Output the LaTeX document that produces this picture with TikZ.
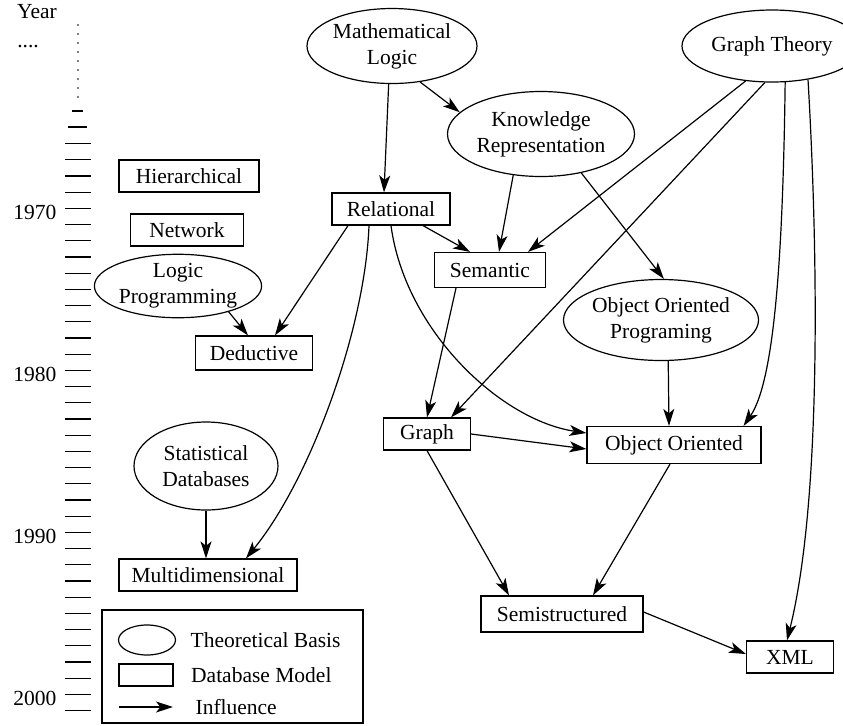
\documentclass[tikz,border=0pt]{standalone}
\usepackage{fontspec}
\setmainfont{Liberation Serif}
\usetikzlibrary{shapes.geometric,arrows.meta,positioning}

\tikzset{
  theory/.style={ellipse, draw, inner sep=0pt, align=center},
  model/.style={rectangle, draw, inner sep=0pt, align=center},
  influence/.style={-{Stealth[length=8.5pt,width=5.5pt,inset=2.2pt]}},
  yeartick/.style={line width=0.6pt},
  legtext/.style={inner sep=0pt}
}

\begin{document}
\begin{tikzpicture}[x=0.5pt, y=-0.5pt, line width=0.6pt,
    font=\fontsize{10.75}{13}\selectfont]
  \useasboundingbox (0,0) rectangle (843,725);

  % Time axis
  \node[inner sep=0pt] (year) at (37,12) {Year};
  \node[inner sep=0pt, anchor=base] (dots) at (28,47) {....};
  \draw[line width=0.9pt, line cap=round, dash pattern=on 0pt off 4.5pt] (78,25) -- (78,98);
  \draw[yeartick] (72,111) -- (83,111);
  \draw[yeartick] (68,127) -- (87,127);
  \foreach \yr in {1966,...,2001}
    \draw[yeartick] (65,{208.3+(\yr-1970)*16.2}) -- (91,{208.3+(\yr-1970)*16.2});
  \foreach \yr in {1970,1980,1990,2000}
    \node[anchor=east, inner sep=0pt] (y\yr) at (57,{212.3+(\yr-1970)*16.2}) {\yr};

  % Define nodes
  \node[theory, minimum width=85pt, minimum height=37.5pt]   (ml)  at (392,46)  {Mathematical\\Logic};
  \node[theory, minimum width=90pt, minimum height=36pt]     (gt)  at (772,46)  {Graph Theory};
  \node[theory, minimum width=93.5pt, minimum height=42.5pt] (kr)  at (541,134) {Knowledge\\Representation};
  \node[theory, minimum width=75pt, minimum height=31pt]     (lp)  at (178,286) {Logic\\Programming};
  \node[theory, minimum width=87pt, minimum height=40.5pt]   (oop) at (661,320) {Object Oriented\\Programing};
  \node[theory, minimum width=72pt, minimum height=44pt]     (sd)  at (206,466) {Statistical\\Databases};

  \node[model, minimum width=70pt, minimum height=16pt]    (hier)  at (189,176) {Hierarchical};
  \node[model, minimum width=56.5pt, minimum height=16pt]  (net)   at (187,230) {Network};
  \node[model, minimum width=59pt, minimum height=16pt]    (rel)   at (391,209) {Relational};
  \node[model, minimum width=55.5pt, minimum height=17.5pt] (sem)  at (490,270) {Semantic};
  \node[model, minimum width=58.5pt, minimum height=17pt]  (ded)   at (254,353) {Deductive};
  \node[model, minimum width=43.5pt, minimum height=16pt]  (graph) at (427,434) {Graph};
  \node[model, minimum width=87pt, minimum height=18.5pt]  (oo)    at (674,445) {Object Oriented};
  \node[model, minimum width=89pt, minimum height=16pt]    (multi) at (208,575) {Multidimensional};
  \node[model, minimum width=81pt, minimum height=18pt]    (semi)  at (562,614) {Semistructured};
  \node[model, minimum width=43.5pt, minimum height=16pt]  (xml)   at (790,657) {XML};

  % Connect the nodes
  \draw[influence] (ml.265) -- ([xshift=-3.5pt]rel.north);
  \draw[influence] (ml.308) -- (kr.165);
  \draw[influence] (kr.236) -- ([xshift=4.5pt]sem.north);
  \draw[influence] (kr.316) -- (oop.86);
  \draw[influence] (gt.233) -- ([xshift=19pt]sem.north);
  \draw[influence] (gt.259) -- ([xshift=12pt]graph.north);
  \draw[influence] (gt.290) .. controls (783,250) and (775,380) .. ([xshift=-9pt]oo.north east);
  \draw[influence] (gt.317) .. controls (818,250) and (822,500) .. ([xshift=-1.5pt]xml.north);
  \draw[influence] ([xshift=16pt]rel.south) -- ([xshift=-10pt]sem.north);
  \draw[influence] ([xshift=-21.5pt]rel.south) -- ([xshift=10.5pt]ded.north);
  \draw[influence] ([xshift=-11pt]rel.south) .. controls (365,330) and (310,480) .. ([xshift=19pt]multi.north);
  \draw[influence] (rel.south) .. controls (405,330) and (500,420) .. ([yshift=6pt]oo.west);
  \draw[influence] (lp.333) -- ([xshift=-3pt]ded.north);
  \draw[influence] ([xshift=-17pt]sem.south) -- (graph.north);
  \draw[influence] (oop.280) -- ([xshift=-2.5pt]oo.north);
  \draw[influence] (graph.east) -- ([yshift=-2pt]oo.west);
  \draw[influence] (graph.south) -- ([xshift=-26.5pt]semi.north);
  \draw[influence] ([xshift=-2pt]oo.south) -- ([xshift=15.5pt]semi.north);
  \draw[influence] ([yshift=1pt]semi.east) -- ([yshift=1.5pt]xml.west);
  \draw[influence] (sd.south) -- ([xshift=-1pt]multi.north);

  % Legend
  \draw (102,610) rectangle (363,723);
  \node[theory, minimum width=28.5pt, minimum height=15pt] (legT) at (147,640) {};
  \node[model, minimum width=27pt, minimum height=11pt]    (legM) at (146,675) {};
  \coordinate (legA) at (119,707);
  \coordinate (legB) at (173,707);
  \draw[influence] (legA) -- (legB);
  \node[legtext, right=7pt of legT]   (legTtext) {Theoretical Basis};
  \node[legtext, right=8.5pt of legM] (legMtext) {Database Model};
  \node[legtext, right=11pt of legB]  (legAtext) {Influence};

\end{tikzpicture}
\end{document}
